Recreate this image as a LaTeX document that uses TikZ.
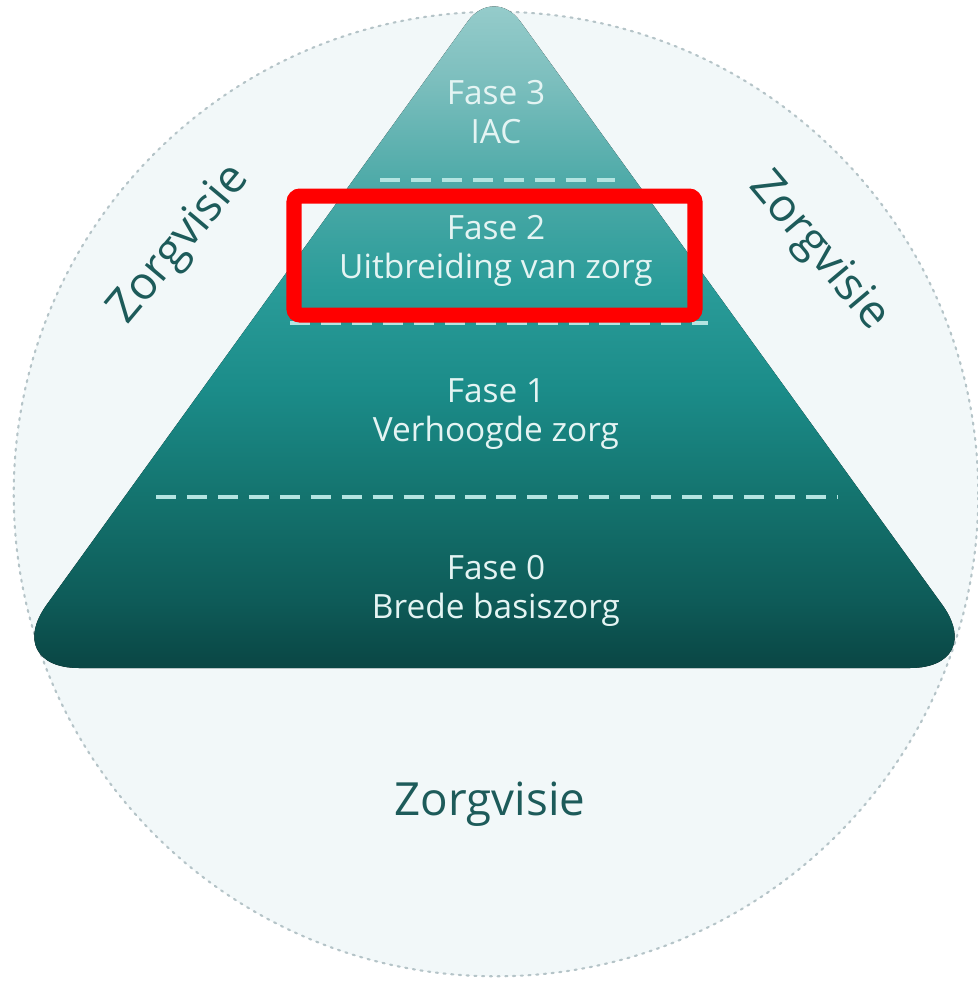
\documentclass[tikz,border=0pt]{standalone}
\usepackage{fontspec}
\setmainfont{Open Sans}
\usepackage{xcolor}
\usepackage{tikz}
\usetikzlibrary{positioning}
\definecolor{circfill}{HTML}{F2F8F9}
\definecolor{circline}{HTML}{B5C4C8}
\definecolor{visietext}{HTML}{1D5B5A}
\definecolor{fasetext}{HTML}{E4F4F3}
\definecolor{sepline}{HTML}{B4E4E1}
\definecolor{pyrA}{HTML}{0A4644}
\definecolor{pyrB}{HTML}{0E5C59}
\definecolor{pyrC}{HTML}{14746F}
\definecolor{pyrD}{HTML}{1B8C89}
\definecolor{pyrE}{HTML}{2A9C99}
\definecolor{pyrF}{HTML}{4EAAA8}
\definecolor{pyrG}{HTML}{7DBFBE}
\definecolor{pyrH}{HTML}{9CCFCE}
\pgfdeclareverticalshading{pyramid}{100bp}{color(0bp)=(pyrA); color(25bp)=(pyrA);
  color(30.2bp)=(pyrB); color(37.8bp)=(pyrC); color(45.4bp)=(pyrD); color(53bp)=(pyrE);
  color(60.6bp)=(pyrF); color(68.2bp)=(pyrG); color(75bp)=(pyrH); color(100bp)=(pyrH)}

\begin{document}
\begin{tikzpicture}[x=0.01cm, y=-0.01cm,
    fase/.style={text=fasetext, align=center, inner sep=0pt, font=\fontsize{9.5}{11.2}\selectfont},
    visie/.style={text=visietext, inner sep=0pt, font=\fontsize{13}{15}\selectfont},
    sepdash/.style={draw=sepline, line width=1.1pt, dash pattern=on 5.7pt off 3.1pt},
    highlight/.style={draw=red, line width=0.15cm, rounded corners=0.06cm}]
  \useasboundingbox (0,0) rectangle (978,981);
  % outer circle
  \filldraw[fill=circfill, draw=circline, line width=0.6pt, dash pattern=on 0.6pt off 1.6pt, line cap=round]
    (496,494) circle [radius=4.82cm];
  % the pyramid
  \fill[shading=pyramid] (494,668) [rounded corners=0.78cm] -- (988,668)
    [rounded corners=0.45cm] -- (494,-15) [rounded corners=0.78cm] -- (1,668) -- cycle;
  \foreach \y/\a/\b in {180/380/615, 323/290/708, 497/156/838}
    \draw[sepdash] (\a,\y) -- (\b,\y);
  \node[fase] (fase3) at (496,112) {Fase 3\\IAC};
  \node[fase] (fase2) at (496,251) {Fase 2\\Uitbreiding van zorg};
  \node[fase] (fase1) at (496,414) {Fase 1\\Verhoogde zorg};
  \node[fase] (fase0) at (496,591) {Fase 0\\Brede basiszorg};
  \node[visie, rotate=50] (visieleft) at (180,245) {Zorgvisie};
  \node[visie, rotate=-50] (visieright) at (818,252) {Zorgvisie};
  \node[visie] (visiebottom) at (490,804) {Zorgvisie};
  % red frame round fase 2
  \draw[highlight] (294,196) rectangle (695,315);
\end{tikzpicture}
\end{document}
